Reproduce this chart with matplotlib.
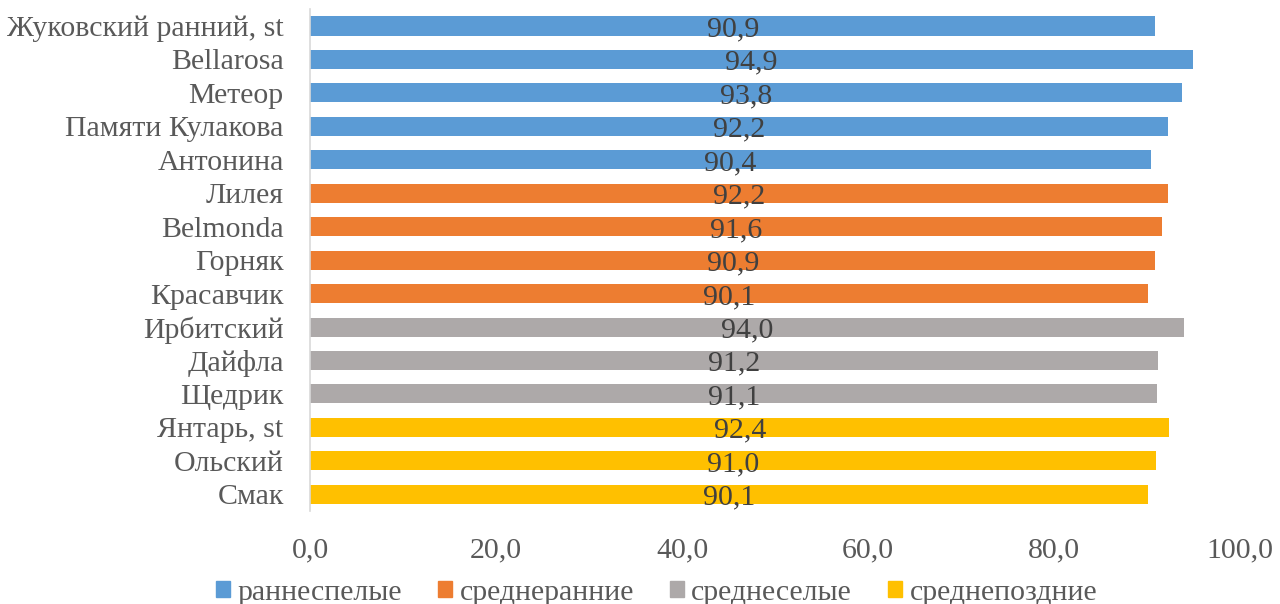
import matplotlib
matplotlib.use("Agg")
import matplotlib.pyplot as plt
from matplotlib.patches import Patch

categories = ["Жуковский ранний, st", "Bellarosa", "Метеор", "Памяти Кулакова", "Антонина",
              "Лилея", "Belmonda", "Горняк", "Красавчик",
              "Ирбитский", "Дайфла", "Щедрик",
              "Янтарь, st", "Ольский", "Смак"]
values = [90.9, 94.9, 93.8, 92.2, 90.4,
          92.2, 91.6, 90.9, 90.1,
          94.0, 91.2, 91.1,
          92.4, 91.0, 90.1]
groups = [0, 0, 0, 0, 0, 1, 1, 1, 1, 2, 2, 2, 3, 3, 3]
group_names = ["раннеспелые", "среднеранние", "среднеселые", "среднепоздние"]
group_colors = ["#5B9BD5", "#ED7D31", "#ADA9A9", "#FFC000"]
xticks = [0, 20, 40, 60, 80, 100]

plt.rcParams['font.family'] = ['Liberation Serif', 'DejaVu Serif']
FS = 21.5

fig = plt.figure(figsize=(12.8, 6.04), dpi=100)
ax = fig.add_axes([0.2422, 0.154, 0.7266, 0.8306])

ypos = list(range(len(categories)))
cols = [group_colors[g] for g in groups]
ax.barh(ypos, values, height=0.57, color=cols)
ax.set_ylim(len(categories) - 0.5, -0.5)
ax.set_xlim(0, 100)

for y, v in zip(ypos, values):
    ax.text(v / 2, y + 0.1, f"{v:.1f}".replace(".", ","), ha="center", va="center",
            fontsize=FS, color="#404040")

ax.set_yticks(ypos)
ax.set_yticklabels(categories, fontsize=FS, color="#595959")
ax.set_xticks(xticks)
ax.set_xticklabels([f"{t:.1f}".replace(".", ",") for t in xticks], fontsize=FS, color="#595959")
ax.tick_params(axis="both", length=0)
ax.tick_params(axis="y", pad=19)
ax.tick_params(axis="x", pad=19)
for s in ["top", "right", "bottom"]:
    ax.spines[s].set_visible(False)
ax.spines["left"].set_color("#D9D9D9")
ax.spines["left"].set_linewidth(1.2)

handles = [Patch(facecolor=c, edgecolor=c) for c in group_colors]
fig.legend(handles, group_names, loc="center", bbox_to_anchor=(0.513, 0.019), ncol=4,
           frameon=False, fontsize=FS, handlelength=0.47, handleheight=0.47,
           handletextpad=0.25, columnspacing=1.2, labelcolor="#595959",
           borderpad=0, borderaxespad=0)

fig.savefig("out.png", dpi=100)
